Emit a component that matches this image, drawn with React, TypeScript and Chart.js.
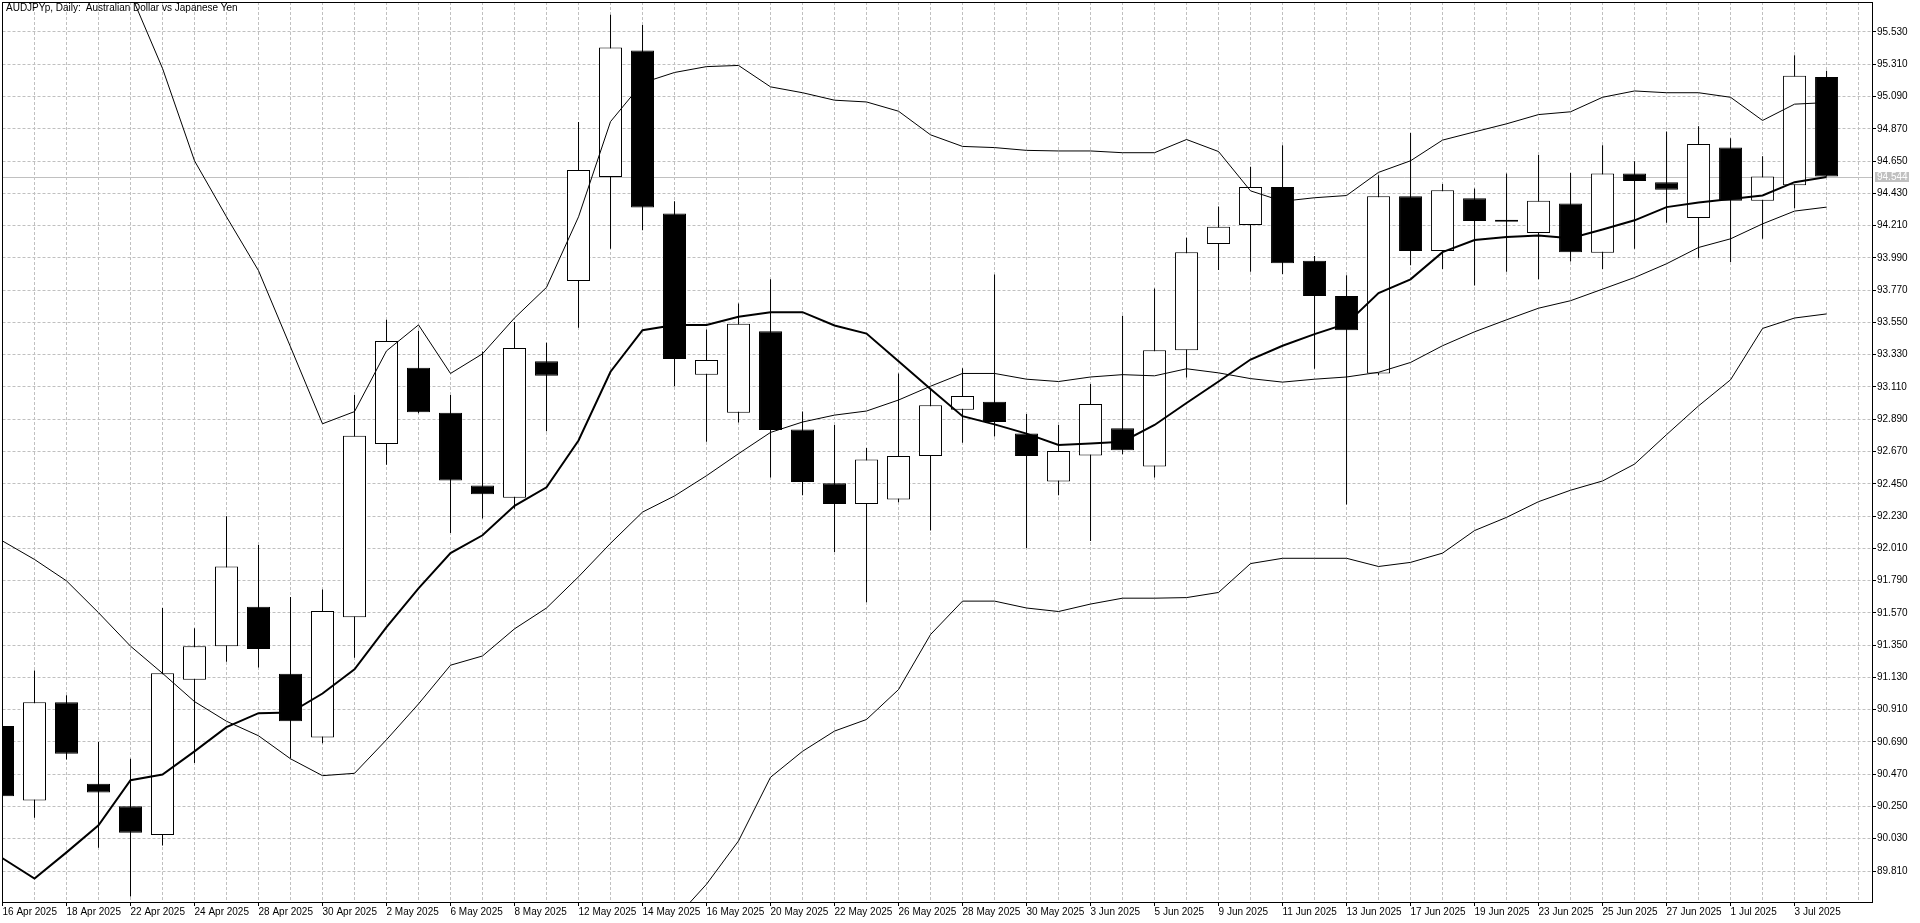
import React, { useEffect, useRef } from "react";
import { Chart, registerables } from "chart.js";

Chart.register(...registerables);

const FONT = '"Liberation Sans", Arial, sans-serif';
const FONT_SIZE = 10;

const symbolTitle = "AUDJPYp, Daily:  Australian Dollar vs Japanese Yen";
const lastPrice = 94.544;

const dates = [
  "16 Apr 2025", "17 Apr 2025", "18 Apr 2025", "21 Apr 2025", "22 Apr 2025", "23 Apr 2025", "24 Apr 2025", "25 Apr 2025",
  "28 Apr 2025", "29 Apr 2025", "30 Apr 2025", "1 May 2025", "2 May 2025", "5 May 2025", "6 May 2025", "7 May 2025",
  "8 May 2025", "9 May 2025", "12 May 2025", "13 May 2025", "14 May 2025", "15 May 2025", "16 May 2025", "19 May 2025",
  "20 May 2025", "21 May 2025", "22 May 2025", "23 May 2025", "26 May 2025", "27 May 2025", "28 May 2025", "29 May 2025",
  "30 May 2025", "2 Jun 2025", "3 Jun 2025", "4 Jun 2025", "5 Jun 2025", "6 Jun 2025", "9 Jun 2025", "10 Jun 2025",
  "11 Jun 2025", "12 Jun 2025", "13 Jun 2025", "16 Jun 2025", "17 Jun 2025", "18 Jun 2025", "19 Jun 2025", "20 Jun 2025",
  "23 Jun 2025", "24 Jun 2025", "25 Jun 2025", "26 Jun 2025", "27 Jun 2025", "30 Jun 2025", "1 Jul 2025", "2 Jul 2025",
  "3 Jul 2025", "4 Jul 2025",
];

const opens = [
  90.799, 90.291, 90.961, 90.405, 90.252, 90.055, 91.114, 91.343, 91.611, 91.154,
  90.720, 91.540, 92.721, 93.241, 92.934, 92.438, 92.355, 93.285, 93.832, 94.541,
  95.404, 94.293, 93.194, 92.934, 93.490, 92.820, 92.454, 92.312, 92.343, 92.639,
  92.954, 93.009, 92.792, 92.465, 92.643, 92.828, 92.568, 93.360, 94.084, 94.214,
  94.474, 93.970, 93.730, 93.202, 94.411, 94.037, 94.396, 94.250, 94.159, 94.360,
  94.025, 94.565, 94.506, 94.262, 94.742, 94.380, 94.486, 95.223,
];

const highs = [
  90.850, 91.177, 91.008, 90.689, 90.575, 91.603, 91.465, 92.229, 92.032, 91.678,
  91.729, 93.056, 93.568, 93.494, 93.056, 93.352, 93.553, 93.411, 94.916, 95.648,
  95.577, 94.376, 93.501, 93.679, 93.844, 92.942, 92.851, 92.694, 93.202, 93.100,
  93.237, 93.876, 92.926, 92.851, 93.131, 93.596, 93.781, 94.128, 94.340, 94.612,
  94.758, 94.002, 93.872, 94.553, 94.841, 94.494, 94.463, 94.565, 94.691, 94.569,
  94.758, 94.648, 94.852, 94.888, 94.805, 94.683, 95.372, 95.266,
];

const lows = [
  90.270, 90.173, 90.571, 89.968, 89.637, 89.984, 90.547, 91.236, 91.197, 90.579,
  90.681, 91.264, 92.580, 92.930, 92.115, 92.213, 92.280, 92.808, 93.513, 94.053,
  94.179, 93.115, 92.737, 92.867, 92.493, 92.371, 91.985, 91.642, 92.324, 92.131,
  92.729, 92.773, 92.012, 92.371, 92.060, 92.651, 92.493, 93.174, 93.907, 93.895,
  93.880, 93.234, 92.308, 93.190, 93.939, 93.915, 93.801, 93.895, 93.844, 93.966,
  93.915, 94.053, 94.230, 93.990, 93.962, 94.120, 94.329, 94.544,
];

const closes = [
  90.319, 90.961, 90.610, 90.346, 90.071, 91.158, 91.343, 91.886, 91.323, 90.831,
  91.583, 92.777, 93.423, 92.938, 92.473, 92.379, 93.375, 93.186, 94.589, 95.424,
  94.333, 93.301, 93.293, 93.541, 92.816, 92.462, 92.312, 92.615, 92.639, 92.985,
  93.048, 92.871, 92.639, 92.674, 92.993, 92.678, 93.360, 94.029, 94.203, 94.474,
  93.954, 93.730, 93.497, 94.411, 94.037, 94.451, 94.242, 94.236, 94.380, 94.029,
  94.565, 94.514, 94.455, 94.766, 94.380, 94.545, 95.231, 94.544,
];

const bbUpper = [
  96.700, 96.550, 96.400, 96.150, 95.794, 95.282, 94.652, 94.270, 93.903, 93.383,
  92.859, 92.942, 93.356, 93.533, 93.202, 93.336, 93.580, 93.789, 94.270, 94.919,
  95.183, 95.254, 95.294, 95.302, 95.156, 95.116, 95.065, 95.053, 94.990, 94.829,
  94.750, 94.742, 94.723, 94.719, 94.719, 94.707, 94.707, 94.797, 94.715, 94.447,
  94.376, 94.400, 94.415, 94.573, 94.652, 94.793, 94.849, 94.904, 94.967, 94.986,
  95.085, 95.128, 95.116, 95.116, 95.085, 94.927, 95.038, 95.049,
];

const bbMiddle = [
  92.060, 91.934, 91.788, 91.571, 91.343, 91.158, 90.965, 90.831, 90.732, 90.575,
  90.460, 90.476, 90.705, 90.949, 91.213, 91.276, 91.461, 91.603, 91.816, 92.044,
  92.257, 92.367, 92.505, 92.655, 92.800, 92.871, 92.918, 92.946, 93.021, 93.115,
  93.202, 93.202, 93.163, 93.147, 93.178, 93.194, 93.186, 93.234, 93.206, 93.167,
  93.143, 93.163, 93.178, 93.210, 93.277, 93.391, 93.486, 93.568, 93.647, 93.698,
  93.777, 93.856, 93.950, 94.061, 94.120, 94.222, 94.309, 94.336,
];

const bbLower = [
  87.420, 87.320, 87.180, 86.990, 86.892, 87.034, 87.278, 87.392, 87.561, 87.766,
  88.062, 88.010, 88.054, 88.365, 89.224, 89.216, 89.342, 89.417, 89.362, 89.168,
  89.330, 89.480, 89.720, 90.015, 90.449, 90.626, 90.764, 90.843, 91.047, 91.422,
  91.650, 91.650, 91.603, 91.579, 91.630, 91.670, 91.670, 91.674, 91.709, 91.906,
  91.942, 91.942, 91.942, 91.886, 91.914, 91.977, 92.131, 92.221, 92.328, 92.406,
  92.469, 92.584, 92.785, 92.981, 93.159, 93.509, 93.580, 93.608,
];

const maLine = [
  89.897, 89.759, 89.937, 90.122, 90.429, 90.468, 90.626, 90.791, 90.886, 90.890,
  91.020, 91.185, 91.473, 91.737, 91.977, 92.099, 92.300, 92.426, 92.745, 93.214,
  93.497, 93.533, 93.533, 93.588, 93.620, 93.620, 93.529, 93.474, 93.285, 93.096,
  92.911, 92.855, 92.792, 92.714, 92.725, 92.737, 92.851, 93.001, 93.147, 93.297,
  93.391, 93.470, 93.541, 93.750, 93.844, 94.029, 94.112, 94.132, 94.143, 94.124,
  94.183, 94.246, 94.336, 94.368, 94.392, 94.415, 94.506, 94.541,
];

const priceTicks = [
  89.81, 90.03, 90.25, 90.47, 90.69, 90.91, 91.13, 91.35, 91.57, 91.79,
  92.01, 92.23, 92.45, 92.67, 92.89, 93.11, 93.33, 93.55, 93.77, 93.99,
  94.21, 94.43, 94.65, 94.87, 95.09, 95.31, 95.53,
];

// view extents of the axes
const X_MIN = 0;
const X_MAX = 58.42;
const Y_MIN = 89.5987;
const Y_MAX = 95.7345;

export default function App() {
  const canvasRef = useRef<HTMLCanvasElement>(null);

  useEffect(() => {
    const canvas = canvasRef.current;
    if (!canvas) return;

    const idx = dates.map((_, i) => i);
    const bodyData = idx.map((i) => ({ x: i, y: [opens[i], closes[i]] }));
    const wickData = idx.map((i) => ({ x: i, y: [lows[i], highs[i]] }));
    const toLine = (arr: number[]) => arr.map((v, i) => ({ x: i, y: v }));

    const mtPlugin = {
      id: "mtFrame",
      beforeDatasetsDraw(chart: any) {
        const { ctx, chartArea: a } = chart;
        const y = Math.round(chart.scales.y.getPixelForValue(lastPrice)) + 0.5;
        ctx.save();
        ctx.strokeStyle = "#c0c0c0";
        ctx.lineWidth = 1;
        ctx.beginPath();
        ctx.moveTo(a.left, y);
        ctx.lineTo(a.right, y);
        ctx.stroke();
        ctx.restore();
      },
      afterDraw(chart: any) {
        const { ctx, chartArea: a } = chart;
        ctx.save();
        ctx.strokeStyle = "#000";
        ctx.lineWidth = 1;
        const l = Math.floor(a.left) + 0.5;
        const t = Math.floor(a.top) + 0.5;
        const r = Math.floor(a.right) + 0.5;
        const b = Math.floor(a.bottom) + 0.5;
        ctx.strokeRect(l, t, r - l, b - t);
        const y = Math.round(chart.scales.y.getPixelForValue(lastPrice));
        ctx.fillStyle = "#c0c0c0";
        ctx.fillRect(Math.floor(a.right) + 3, y - 5, 34, 10);
        ctx.fillStyle = "#ffffff";
        ctx.font = `${FONT_SIZE}px ${FONT}`;
        ctx.textBaseline = "middle";
        ctx.textAlign = "left";
        ctx.fillText(lastPrice.toFixed(3), Math.floor(a.right) + 5, y + 0.5);
        ctx.restore();
      },
    };

    const lineBase = {
      type: "line" as const,
      borderColor: "#000000",
      pointRadius: 0,
      pointHoverRadius: 0,
      tension: 0,
      fill: false,
      clip: 0,
    };

    const chart = new Chart(canvas, {
      type: "bar",
      data: {
        datasets: [
          { ...lineBase, label: "MA", data: toLine(maLine), borderWidth: 2, order: 1 },
          { ...lineBase, label: "BB upper", data: toLine(bbUpper), borderWidth: 1, order: 2 },
          { ...lineBase, label: "BB middle", data: toLine(bbMiddle), borderWidth: 1, order: 2 },
          { ...lineBase, label: "BB lower", data: toLine(bbLower), borderWidth: 1, order: 2 },
          {
            type: "bar",
            label: "Body",
            data: bodyData as any,
            backgroundColor: (c: any) => (closes[c.dataIndex] >= opens[c.dataIndex] ? "#ffffff" : "#000000"),
            borderColor: "#000000",
            borderWidth: 1,
            borderSkipped: false,
            barThickness: 23,
            grouped: false,
            inflateAmount: 0,
            order: 3,
            clip: 0,
          } as any,
          {
            type: "bar",
            label: "Wick",
            data: wickData as any,
            backgroundColor: "#000000",
            borderWidth: 0,
            barThickness: 1,
            grouped: false,
            inflateAmount: 0,
            order: 4,
            clip: 0,
          } as any,
        ],
      },
      options: {
        responsive: false,
        maintainAspectRatio: false,
        animation: false,
        devicePixelRatio: 1,
        events: [],
        layout: { padding: { left: 2.5, top: 2, right: 0, bottom: 0 } },
        plugins: {
          legend: { display: false },
          tooltip: { enabled: false },
          title: { display: false },
        },
        scales: {
          x: {
            type: "linear",
            min: X_MIN,
            max: X_MAX,
            offset: false,
            border: { display: false, dash: [3, 2] },
            grid: {
              offset: false,
              color: "#c0c0c0",
              lineWidth: 1,
              drawTicks: true,
              tickLength: 4,
              tickColor: (c: any) =>
                c.tick && c.tick.value % 2 === 0 && c.tick.value < dates.length ? "#000000" : "rgba(0,0,0,0)",
            },
            ticks: {
              autoSkip: false,
              maxRotation: 0,
              minRotation: 0,
              align: "start",
              padding: 0,
              color: "#000000",
              font: { family: FONT, size: FONT_SIZE },
              callback: (v: any) => {
                const i = Number(v);
                return i % 2 === 0 && dates[i] ? dates[i] : "";
              },
            },
            afterBuildTicks: (scale: any) => {
              scale.ticks = Array.from({ length: 59 }, (_, i) => ({ value: i }));
            },
            afterFit: (scale: any) => {
              scale.height = 21;
              scale.paddingLeft = 0;
              scale.paddingRight = 0;
            },
          } as any,
          y: {
            type: "linear",
            position: "right",
            min: Y_MIN,
            max: Y_MAX,
            border: { display: false, dash: [3, 2] },
            grid: {
              color: "#c0c0c0",
              lineWidth: 1,
              drawTicks: true,
              tickLength: 4,
              tickColor: "#000000",
            },
            ticks: {
              padding: 1,
              color: "#000000",
              font: { family: FONT, size: FONT_SIZE },
              callback: (v: any) => Number(v).toFixed(3),
            },
            afterBuildTicks: (scale: any) => {
              scale.ticks = priceTicks.map((v) => ({ value: v }));
            },
            afterFit: (scale: any) => {
              scale.width = 48;
              scale.paddingTop = 0;
              scale.paddingBottom = 0;
            },
          } as any,
        },
      },
      plugins: [mtPlugin],
    });

    return () => {
      chart.destroy();
    };
  }, []);

  return (
    <div
      style={{
        position: "fixed",
        left: 0,
        top: 0,
        width: 1920,
        height: 923,
        background: "#ffffff",
        overflow: "hidden",
      }}
    >
      <canvas ref={canvasRef} width={1920} height={923} style={{ display: "block", width: 1920, height: 923 }} />
      <div
        style={{
          position: "absolute",
          left: 6,
          top: 1,
          font: `${FONT_SIZE}px ${FONT}`,
          lineHeight: "13px",
          color: "#000000",
          whiteSpace: "pre",
        }}
      >
        {symbolTitle}
      </div>
    </div>
  );
}
